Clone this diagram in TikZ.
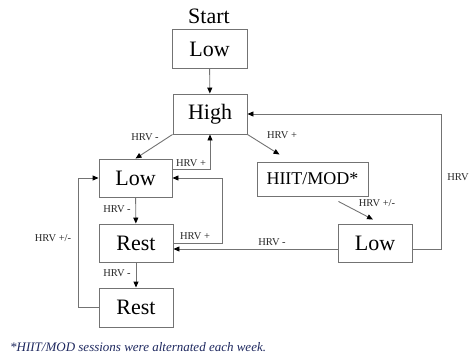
\documentclass[tikz,border=0pt]{standalone}
\usepackage{fontspec}
\setmainfont{Liberation Serif}
\usetikzlibrary{arrows.meta}
\definecolor{notecol}{RGB}{30,40,95}
\begin{document}
\begin{tikzpicture}[x=1pt,y=-1pt,
  box/.style={draw=black!55, line width=0.9pt, inner sep=0pt, minimum width=74pt, minimum height=38pt, font=\fontsize{22}{24}\selectfont},
  arr/.style={draw=black!55, line width=0.9pt, -{Triangle[length=6pt,width=5pt,color=black]}},
  lbl/.style={font=\fontsize{10.5}{12}\selectfont, text=black!85, inner sep=0pt}]
\useasboundingbox (0,0) rectangle (472,356);
\node[font=\fontsize{22}{24}\selectfont, inner sep=0pt] (start) at (209,16) {Start};
\node[box, minimum width=75pt, minimum height=39pt] (lowA) at (209.5,49) {Low};
\node[box, minimum height=40pt] (high) at (210,114) {High};
\node[box, minimum width=73pt] (lowB) at (135.5,178) {Low};
\node[box] (rest1) at (136,243) {Rest};
\node[box, minimum height=39pt] (rest2) at (136,307.5) {Rest};
\node[box, minimum width=111pt, minimum height=34pt, font=\fontsize{18}{20}\selectfont] (hiit) at (312.5,179) {HIIT/MOD*};
\node[box] (lowC) at (375,243) {Low};

\draw[arr] (lowA) -- (high);
\draw[arr] (high.south west) -- (lowB.north);
\draw[arr] (high.south east) -- ([xshift=-33pt,yshift=7pt]hiit.north);
\draw[arr] ([xshift=-30pt,yshift=-5pt]hiit.south east) -- ([xshift=-2pt,yshift=4pt]lowC.north);
\draw[arr] ([yshift=9pt]lowB.east) -| (high.south);
\draw[arr] (lowB) -- (rest1);
\draw[arr] (rest1.east) -- ++(49,0) |- (lowB.east);
\draw[arr] ([yshift=-6pt]lowC.west) -- ([yshift=-6pt]rest1.east);
\draw[arr] ([yshift=-6pt]lowC.east) -- (441,249) |- (high.east);
\draw[arr] (rest1) -- (rest2);
\draw[arr] (rest2.west) -- (78,307.5) |- (lowB.west);

\node[lbl] (l1) at (145,137) {HRV -};
\node[lbl] (l2) at (191,163) {HRV +};
\node[lbl] (l3) at (117,209) {HRV -};
\node[lbl] (l4) at (195,236) {HRV +};
\node[lbl] (l5) at (117,273) {HRV -};
\node[lbl] (l6) at (53,238) {HRV +/-};
\node[lbl] (l7) at (282,135) {HRV +};
\node[lbl] (l8) at (377,203) {HRV +/-};
\node[lbl] (l9) at (272,242) {HRV -};
\node[lbl] (l10) at (458,177) {HRV};

\node[anchor=base west, inner sep=0pt, text=notecol, font=\fontsize{13}{15}\selectfont\itshape] (note) at (10,351) {*HIIT/MOD sessions were alternated each week.};
\end{tikzpicture}
\end{document}
